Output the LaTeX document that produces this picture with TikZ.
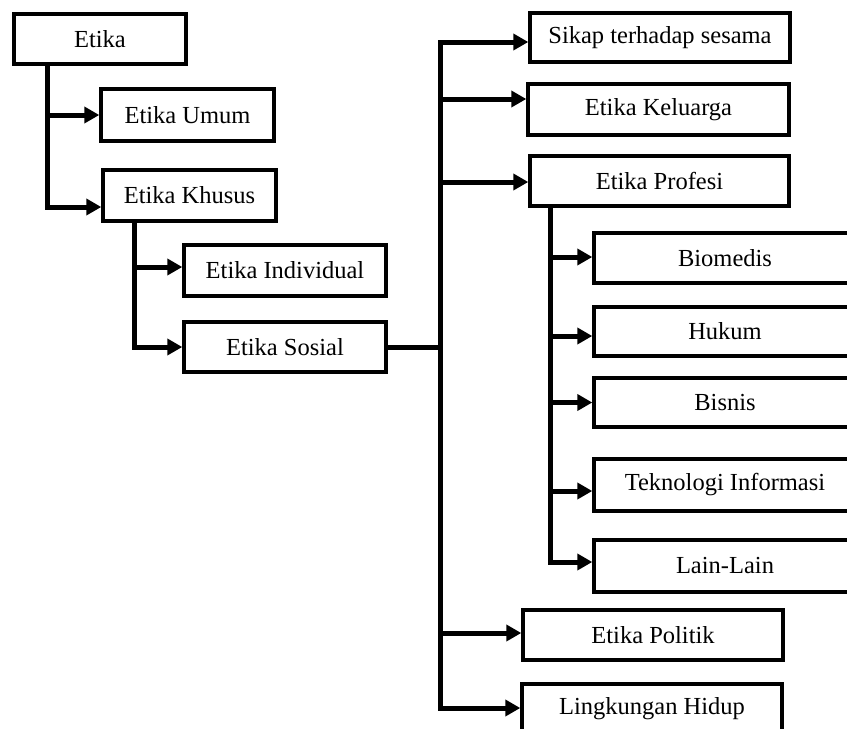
\documentclass[tikz,border=0pt]{standalone}
\usepackage{fontspec}
\setmainfont{Liberation Serif}
\usetikzlibrary{arrows.meta}

\begin{document}
\begin{tikzpicture}[x=1pt,y=-1pt,
  box/.style={draw,line width=3.4pt,minimum height=50pt,inner sep=0pt,
    font=\fontsize{24.5}{28}\selectfont},
  subbox/.style={box,minimum width=262pt},
  link/.style={line width=5pt,-{Triangle[length=15pt,width=16pt]}},
  trunk/.style={line width=5pt}]
\useasboundingbox[fill=white] (0,0) rectangle (847,729);
% left part
\node[box,minimum width=172pt] (etika) at (100,39) {Etika};
\node[box,minimum width=173pt,minimum height=52pt] (umum) at (187.5,115) {Etika Umum};
\node[box,minimum width=173pt,minimum height=51pt] (khusus) at (189.5,195.5) {Etika Khusus};
\node[box,minimum width=202pt,minimum height=51pt] (individual) at (285,270.5) {Etika Individual};
\node[box,minimum width=202pt] (sosial) at (285,347) {Etika Sosial};
% right part
\node[box,minimum width=260pt,minimum height=49pt] (sikap) at (660,37.5) {Sikap terhadap sesama};
\node[box,minimum width=261pt,minimum height=51pt] (keluarga) at (658.5,109.5) {Etika Keluarga};
\node[box,minimum width=259pt] (profesi) at (659.5,181) {Etika Profesi};
\node[subbox] (biomedis) at (725,258) {Biomedis};
\node[subbox,minimum height=49pt] (hukum) at (725,331.5) {Hukum};
\node[subbox,minimum height=49pt] (bisnis) at (725,402.5) {Bisnis};
\node[subbox,minimum height=52pt] (teknologi) at (725,485) {Teknologi Informasi};
\node[subbox,minimum height=52pt] (lain) at (725,566) {Lain-Lain};
\node[box,minimum width=260pt] (politik) at (653,635) {Etika Politik};
\node[box,minimum width=260pt] (lingkungan) at (652,709) {Lingkungan Hidup};

\coordinate (t1) at ([xshift=35pt]etika.south west);
\coordinate (t2) at ([xshift=33pt]khusus.south west);
\coordinate (hub) at (440,347);
\coordinate (t3) at ([xshift=22pt]profesi.south west);

\draw[link] (t1) |- (umum);
\draw[link] (t1) |- ([yshift=-11.5pt]khusus.west);
\draw[link] (t2) |- ([yshift=3.5pt]individual.west);
\draw[link] (t2) |- (sosial);
\draw[trunk] (sosial) -- (hub);
\draw[link] (hub) |- ([yshift=-4.5pt]sikap.west);
\draw[link] (hub) |- ([yshift=10.5pt]keluarga.west);
\draw[link] (hub) |- ([yshift=-1pt]profesi.west);
\draw[link] (hub) |- ([yshift=2pt]politik.west);
\draw[link] (hub) |- ([yshift=1pt]lingkungan.west);
\draw[link] (t3) |- ([yshift=1pt]biomedis.west);
\draw[link] (t3) |- ([yshift=-4.5pt]hukum.west);
\draw[link] (t3) |- (bisnis);
\draw[link] (t3) |- ([yshift=-6pt]teknologi.west);
\draw[link] (t3) |- ([yshift=4pt]lain.west);
\end{tikzpicture}
\end{document}
